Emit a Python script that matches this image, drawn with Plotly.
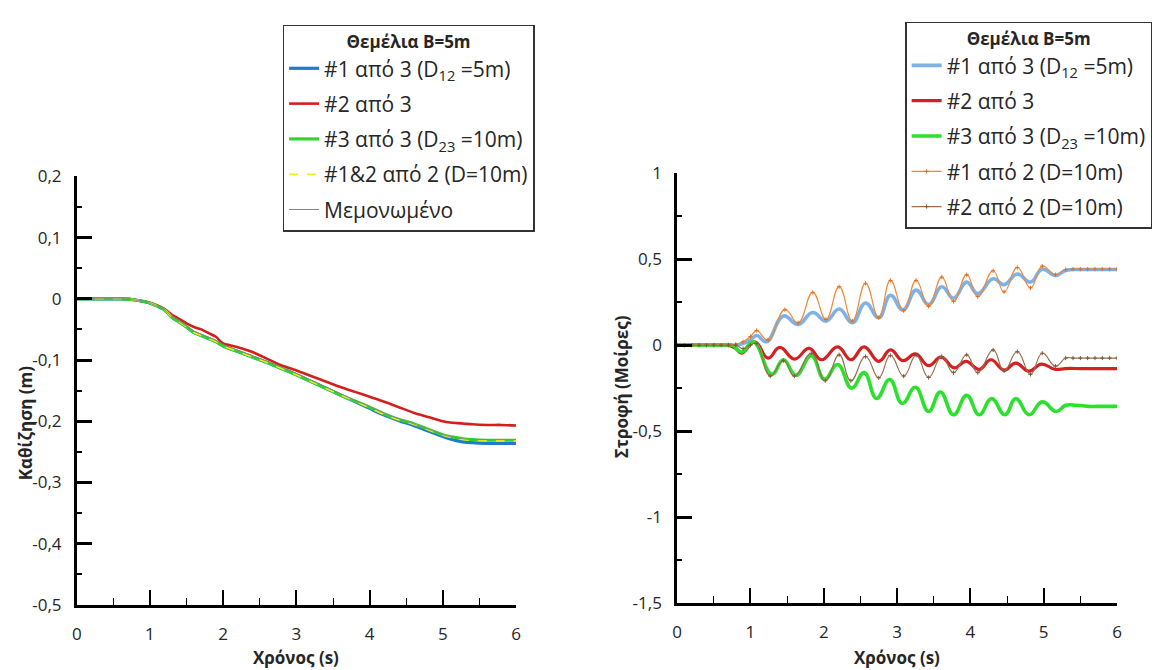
import plotly.graph_objects as go

# ---------------- Settlement vs time (left panel) ----------------
t_settle = [0, 0.3, 0.6, 0.7, 0.8, 0.9, 1.0, 1.1, 1.2, 1.3, 1.4, 1.5, 1.6, 1.7, 1.8, 1.9,
            2.0, 2.2, 2.4, 2.6, 2.8, 3.0, 3.2, 3.4, 3.6, 3.8, 4.0, 4.2, 4.4, 4.6, 4.8,
            5.0, 5.1, 5.2, 5.3, 5.4, 5.6, 5.8, 6.0]
settle_f1_of3 = [0, 0, 0, -0.0005, -0.002, -0.004, -0.007, -0.012, -0.018, -0.03, -0.038,
                 -0.046, -0.055, -0.06, -0.065, -0.07, -0.077, -0.086, -0.095, -0.104,
                 -0.114, -0.124, -0.135, -0.146, -0.157, -0.168, -0.179, -0.19, -0.199,
                 -0.207, -0.216, -0.225, -0.229, -0.232, -0.234, -0.235, -0.236, -0.236, -0.236]
settle_f2_of3 = [0, 0, 0, -0.0005, -0.002, -0.004, -0.007, -0.011, -0.017, -0.026, -0.033,
                 -0.04, -0.046, -0.05, -0.056, -0.062, -0.073, -0.079, -0.087, -0.098,
                 -0.109, -0.117, -0.126, -0.135, -0.144, -0.152, -0.16, -0.168, -0.177,
                 -0.186, -0.193, -0.2, -0.202, -0.203, -0.204, -0.205, -0.206, -0.206, -0.207]
settle_f3_of3 = [0, 0, 0, -0.0005, -0.002, -0.004, -0.007, -0.012, -0.018, -0.03, -0.038,
                 -0.046, -0.055, -0.06, -0.065, -0.07, -0.077, -0.086, -0.095, -0.104,
                 -0.114, -0.124, -0.135, -0.146, -0.157, -0.167, -0.177, -0.188, -0.197,
                 -0.204, -0.213, -0.222, -0.225, -0.227, -0.229, -0.23, -0.231, -0.231, -0.231]
settle_pair = [0, 0, 0, -0.0005, -0.002, -0.004, -0.007, -0.012, -0.018, -0.03, -0.038,
               -0.046, -0.055, -0.06, -0.065, -0.07, -0.077, -0.086, -0.095, -0.104,
               -0.114, -0.124, -0.135, -0.146, -0.157, -0.167, -0.178, -0.189, -0.198,
               -0.205, -0.214, -0.223, -0.226, -0.229, -0.23, -0.231, -0.232, -0.232, -0.232]
settle_single = [0, 0, 0, -0.0005, -0.002, -0.004, -0.007, -0.012, -0.018, -0.029, -0.037,
                 -0.045, -0.053, -0.058, -0.063, -0.068, -0.075, -0.084, -0.093, -0.102,
                 -0.112, -0.122, -0.133, -0.144, -0.155, -0.166, -0.176, -0.187, -0.196,
                 -0.204, -0.213, -0.222, -0.225, -0.227, -0.229, -0.23, -0.23, -0.23, -0.23]

# ---------------- Rotation vs time (right panel) ----------------
t_rot_f1_of3 = [0, 0.2, 0.4, 0.6, 0.7, 0.8, 0.9, 1.0, 1.085, 1.22, 1.45, 1.65, 1.85, 2.03,
                2.21, 2.39, 2.57, 2.75, 2.91, 3.08, 3.26, 3.43, 3.61, 3.77, 3.95, 4.10,
                4.31, 4.46, 4.64, 4.82, 4.98, 5.16, 5.3, 5.5, 5.75, 6.0]
rot_f1_of3 = [0, 0, 0, 0, 0, 0, 0.01, 0.03, 0.056, 0.02, 0.17, 0.12, 0.19, 0.14,
              0.21, 0.13, 0.245, 0.16, 0.29, 0.205, 0.32, 0.236, 0.34, 0.273, 0.367, 0.3,
              0.386, 0.352, 0.414, 0.367, 0.442, 0.405, 0.435, 0.44, 0.44, 0.44]

t_rot_f2_of3 = [0, 0.2, 0.4, 0.6, 0.7, 0.8, 0.88, 1.06, 1.24, 1.40, 1.60, 1.80, 1.97, 2.19,
                2.37, 2.55, 2.75, 2.91, 3.08, 3.25, 3.43, 3.60, 3.78, 3.94, 4.12, 4.28,
                4.46, 4.62, 4.80, 4.97, 5.15, 5.3, 5.5, 5.75, 6.0]
rot_f2_of3 = [0, 0, 0, 0, 0, -0.02, -0.047, 0.019, -0.075, -0.013, -0.081, -0.019, -0.085, -0.01,
              -0.085, -0.01, -0.094, -0.028, -0.09, -0.051, -0.119, -0.07, -0.132, -0.094, -0.141, -0.085,
              -0.145, -0.104, -0.151, -0.11, -0.14, -0.136, -0.136, -0.136, -0.136]

t_rot_f3_of3 = [0, 0.2, 0.4, 0.6, 0.75, 0.88, 1.04, 1.29, 1.45, 1.62, 1.83, 2.01, 2.19,
                2.38, 2.55, 2.72, 2.90, 3.07, 3.25, 3.43, 3.59, 3.77, 3.95, 4.12, 4.29,
                4.47, 4.62, 4.80, 4.98, 5.17, 5.3, 5.45, 5.6, 5.8, 6.0]
rot_f3_of3 = [0, 0, 0, 0, 0, -0.04, 0.02, -0.17, -0.085, -0.175, -0.062, -0.198, -0.113,
              -0.25, -0.16, -0.31, -0.2, -0.339, -0.245, -0.386, -0.273, -0.405, -0.292, -0.405, -0.311,
              -0.405, -0.311, -0.405, -0.33, -0.386, -0.35, -0.35, -0.356, -0.356, -0.356]

t_rot_f1_of2 = [0, 0.1, 0.2, 0.3, 0.4, 0.5, 0.6, 0.7, 0.8, 0.9, 1.0, 1.085, 1.24, 1.47, 1.65,
                1.85, 2.03, 2.21, 2.39, 2.57, 2.75, 2.91, 3.09, 3.26, 3.43, 3.61, 3.77,
                3.95, 4.10, 4.31, 4.46, 4.64, 4.82, 4.98, 5.16, 5.3, 5.4, 5.5, 5.6, 5.7,
                5.8, 5.9, 6.0]
rot_f1_of2 = [0, 0, 0, 0, 0, 0, 0, 0, 0.005, 0.02, 0.05, 0.085, 0.03, 0.207, 0.13,
              0.307, 0.15, 0.34, 0.14, 0.36, 0.16, 0.377, 0.2, 0.377, 0.226, 0.396, 0.254,
              0.41, 0.282, 0.433, 0.31, 0.452, 0.333, 0.46, 0.41, 0.44, 0.442, 0.442, 0.442, 0.442,
              0.442, 0.442, 0.442]

t_rot_f2_of2 = [0, 0.1, 0.2, 0.3, 0.4, 0.5, 0.6, 0.7, 0.8, 0.9, 1.0, 1.08, 1.27, 1.45, 1.6,
                1.83, 2.02, 2.21, 2.37, 2.57, 2.75, 2.91, 3.09, 3.26, 3.43, 3.61, 3.77,
                3.95, 4.10, 4.31, 4.46, 4.64, 4.82, 4.98, 5.16, 5.3, 5.4, 5.5, 5.6, 5.7,
                5.8, 5.9, 6.0]
rot_f2_of2 = [0, 0, 0, 0, 0, 0, 0, 0, 0, -0.02, 0, 0.01, -0.18, -0.09, -0.18,
              -0.047, -0.207, -0.056, -0.207, -0.066, -0.19, -0.06, -0.18, -0.06, -0.188, -0.066, -0.16,
              -0.056, -0.16, -0.028, -0.15, -0.038, -0.17, -0.047, -0.122, -0.075, -0.075, -0.075, -0.075,
              -0.075, -0.075, -0.075, -0.075]

# ---------------- Axis ticks ----------------
x_ticks = [0, 1, 2, 3, 4, 5, 6]
x_labels = ["0", "1", "2", "3", "4", "5", "6"]
settle_ticks = [0.2, 0.1, 0, -0.1, -0.2, -0.3, -0.4, -0.5]
settle_labels = ["0,2", "0,1", "0", "-0,1", "-0,2", "-0,3", "-0,4", "-0,5"]
rot_ticks = [1, 0.5, 0, -0.5, -1, -1.5]
rot_labels = ["1", "0,5", "0", "-0,5", "-1", "-1,5"]

legend_title = "Θεμέλια B=5m"
FONT = "Open Sans, DejaVu Sans, sans-serif"
W, H = 1156, 670

fig = go.Figure()

# left panel traces
left_series = [
    ("#1 από 3 (D<sub>12</sub> =5m)", settle_f1_of3, dict(color="#1f7bd1", width=3.2)),
    ("#2 από 3", settle_f2_of3, dict(color="#d41f1f", width=2.6)),
    ("#3 από 3 (D<sub>23</sub> =10m)", settle_f3_of3, dict(color="#2fd62f", width=3.2)),
    ("#1&2 από 2 (D=10m)", settle_pair, dict(color="#f2ec1a", width=1.6, dash="dash")),
    ("Μεμονωμένο", settle_single, dict(color="#858585", width=1.0)),
]
for i, (name, vals, line) in enumerate(left_series):
    fig.add_trace(go.Scatter(
        x=t_settle, y=vals, name=name, mode="lines", line=dict(shape="spline", smoothing=0.6, **line),
        xaxis="x", yaxis="y", legend="legend", legendgroup=f"L{i}", showlegend=True))

# right panel traces
right_series = [
    ("#1 από 3 (D<sub>12</sub> =5m)", t_rot_f1_of3, rot_f1_of3, dict(color="#7eb2e6", width=3.6), None),
    ("#2 από 3", t_rot_f2_of3, rot_f2_of3, dict(color="#d42020", width=3.2), None),
    ("#3 από 3 (D<sub>23</sub> =10m)", t_rot_f3_of3, rot_f3_of3, dict(color="#2ee02e", width=3.6), None),
    ("#1 από 2 (D=10m)", t_rot_f1_of2, rot_f1_of2, dict(color="#f0883a", width=1.2), "#e07020"),
    ("#2 από 2 (D=10m)", t_rot_f2_of2, rot_f2_of2, dict(color="#9a7050", width=1.2), "#7d5a3e"),
]
for i, (name, tt, vals, line, mcol) in enumerate(right_series):
    kw = dict(mode="lines")
    if mcol:
        kw = dict(mode="lines+markers",
                  marker=dict(symbol="cross-thin", size=3, line=dict(width=1, color=mcol), color=mcol))
    fig.add_trace(go.Scatter(
        x=tt, y=vals, name=name, line=dict(shape="spline", smoothing=1.3, **line),
        xaxis="x2", yaxis="y2", legend="legend2", legendgroup=f"R{i}", **kw))

axis_common = dict(
    showline=True, linecolor="black", linewidth=2.6, showgrid=False, zeroline=False,
    ticks="inside", tickcolor="black", mirror=False,
    tickfont=dict(family=FONT, size=17, color="#262626"),
)
x_common = dict(axis_common, tickmode="array", tickvals=x_ticks, ticktext=x_labels,
                ticklen=15, tickwidth=1.8, range=[0, 6], ticklabelstandoff=12,
                minor=dict(ticks="inside", ticklen=7, tickwidth=1.2, tickcolor="black",
                           tick0=0, dtick=0.5))

legend_common = dict(
    xanchor="left", yanchor="top",
    bordercolor="#333", borderwidth=1.5, bgcolor="white",
    font=dict(family=FONT, size=21, color="#262626"),
    title=dict(text=f"<b>{legend_title}</b>", side="top center",
               font=dict(family=FONT, size=17, color="#262626")),
    itemwidth=30, tracegroupgap=5, traceorder="grouped",
)

fig.update_layout(
    width=W, height=H, margin=dict(l=0, r=0, t=0, b=0),
    paper_bgcolor="white", plot_bgcolor="white",
    font=dict(family=FONT, color="#262626"),
    showlegend=True,
    xaxis=dict(x_common, domain=[72.4 / W, 515.5 / W], anchor="y"),
    yaxis=dict(axis_common, domain=[(H - 614) / H, (H - 170.2) / H], anchor="x",
               range=[-0.5, 0.2], tickmode="array", tickvals=settle_ticks, ticktext=settle_labels,
               ticklen=15, tickwidth=3, ticklabelstandoff=9,
               minor=dict(ticks="inside", ticklen=5, tickwidth=2, tickcolor="black",
                          tick0=0, dtick=0.05)),
    xaxis2=dict(x_common, domain=[678 / W, 1121.7 / W], anchor="y2"),
    yaxis2=dict(axis_common, domain=[(H - 612) / H, (H - 167) / H], anchor="x2",
                range=[-1.5, 1], tickmode="array", tickvals=rot_ticks, ticktext=rot_labels,
                ticklen=15, tickwidth=3, ticklabelstandoff=9,
                minor=dict(ticks="inside", ticklen=5, tickwidth=2, tickcolor="black",
                           tick0=0, dtick=0.25)),
    legend=dict(legend_common, x=280 / W, y=1 - 13 / H, entrywidth=240, entrywidthmode="pixels"),
    legend2=dict(legend_common, x=908 / W, y=1 - 10 / H),
)

title_font = dict(family=FONT, size=17, color="#262626")
annots = [
    dict(text="<b>Χρόνος (s)</b>", x=(72.4 + 515.5) / 2 / W, y=(H - 668) / H, yanchor="middle"),
    dict(text="<b>Χρόνος (s)</b>", x=(678 + 1121.7) / 2 / W, y=(H - 668) / H, yanchor="middle"),
    dict(text="<b>Καθίζηση (m)</b>", x=21 / W, y=(H - 425) / H, yanchor="middle", textangle=-90),
    dict(text="<b>Στροφή (Μοίρες)</b>", x=622 / W, y=(H - 388) / H, yanchor="middle", textangle=-90),
]
for a in annots:
    fig.add_annotation(xref="paper", yref="paper", showarrow=False, font=title_font,
                       xanchor="center", **a)

fig.write_html("out.html")
